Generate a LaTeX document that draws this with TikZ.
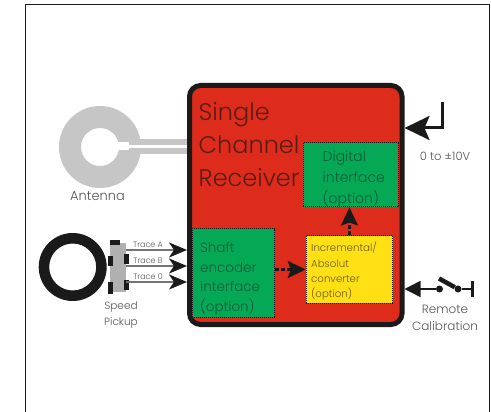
\documentclass[tikz,border=0pt]{standalone}
\usepackage{fontspec}
\setmainfont{Poppins Light}
\usetikzlibrary{arrows.meta,positioning,calc}
\definecolor{ink}{HTML}{1A1A1A}
\definecolor{mainred}{HTML}{DD2C1C}
\definecolor{optgreen}{HTML}{05A854}
\definecolor{optyellow}{HTML}{FFE014}
\definecolor{antgray}{HTML}{C6C6C6}
\definecolor{pickgray}{HTML}{B0B0B0}
\definecolor{labelgray}{HTML}{555555}
\definecolor{redtext}{HTML}{5A1C14}
\definecolor{greentext}{HTML}{0E5C3A}
\definecolor{yellowtext}{HTML}{6A5A1A}
\tikzset{
  receiver/.style={draw=ink,line width=5pt,fill=mainred,rounded corners=11pt,inner sep=0pt,minimum width=212.5pt,minimum height=239pt},
  optionbox/.style={draw=ink,line width=1pt,densely dotted,inner sep=0pt},
  fsz/.style 2 args={font=\fontsize{#1}{#2}\selectfont},
  tlabel/.style={inner sep=0pt,align=center,text=labelgray},
  blockt/.style={inner sep=0pt,align=left,anchor=north west},
  trace/.style={draw=gray!90!black,line width=2pt,-{Stealth[length=18pt,width=15pt,inset=5pt,color=ink]}},
  dashflow/.style={draw=ink,line width=2.5pt,dash pattern=on 4pt off 2pt,-{Stealth[length=18pt,width=17pt,inset=3pt,color=ink]}},
  tooth/.style={fill=ink,draw=none,inner sep=0pt},
}
\begin{document}
\begin{tikzpicture}[x=1pt,y=-1pt]
\useasboundingbox (0,0) rectangle (491,412);
\fill[white] (0,0) rectangle (491,412);
% outer frame (open at the bottom)
\draw[ink,line width=1.3pt] (25.5,412) -- (25.5,4.5) -- (489.5,4.5) -- (489.5,412);
% antenna
\fill[antgray,even odd rule] (100,147) circle (41) (100,147) circle (19);
\fill[antgray] (138,139.5) rectangle (190,154);
\fill[white] (118,142) rectangle (129,150);
\fill[white] (128,145.5) rectangle (190,148.5);
\node[tlabel,fsz={13}{15}] (ant) at (97.5,196) {Antenna};
% receiver
\node[receiver] (rx) at (295.75,205) {};
\node[blockt,fsz={24}{33},text=redtext] (rxt) at (198.5,102) {Single\\Channel\\Receiver};
% option boxes
\node[optionbox,fill=optgreen,minimum width=82.5pt,minimum height=88pt] (shaft) at (233.3,273) {};
\node[blockt,fsz={13.5}{19.4},text=greentext] (shaftt) at (200,242.5) {Shaft\\encoder\\interface\\(option)};
\node[optionbox,fill=optyellow,minimum width=86.5pt,minimum height=67pt] (conv) at (349.5,269.5) {};
\node[blockt,fsz={10.2}{15.3},text=yellowtext] (convt) at (311,242) {Incremental/\\Absolut\\converter\\(option)};
\node[optionbox,fill=optgreen,minimum width=95pt,minimum height=64pt] (dig) at (350.5,175) {};
\node[blockt,fsz={14}{21},text=greentext] (digt) at (322.5,151) {Digital\\interface\\(option)};
\draw[dashflow] (shaft.east |- conv.west) -- (conv.west);
\draw[dashflow] (conv.north) -- (conv.north |- dig.south);
% speed pickup
\fill[ink,even odd rule] (72.7,267) circle (34) (72.7,267) circle (23.5);
\node[draw=none,fill=pickgray,inner sep=0pt,minimum width=16pt,minimum height=49pt] (pick) at (118,267.5) {};
\node[tooth,minimum width=10.5pt,minimum height=5pt] (t1) at (115.2,243) {};
\node[tooth,minimum width=5pt,minimum height=10pt] (t2) at (110,261) {};
\node[tooth,minimum width=5pt,minimum height=12pt] (t3) at (110,288) {};
\node[tooth,minimum width=5pt,minimum height=10pt] (t4) at (126.5,259) {};
\node[tooth,minimum width=5pt,minimum height=10pt] (t5) at (126.5,285) {};
\coordinate (ta) at (126,250); \coordinate (tb) at (126,266); \coordinate (tc) at (126,282);
\draw[trace] (ta) -- (ta -| rx.west);
\draw[trace] (tb) -- (tb -| rx.west);
\draw[trace] (tc) -- (tc -| rx.west);
\node[tlabel,fsz={8}{9}] (la) at (148,245) {Trace A};
\node[tlabel,fsz={8}{9}] (lb) at (148,261) {Trace B};
\node[tlabel,fsz={8}{9}] (lc) at (148,277) {Trace 0};
\node[tlabel,fsz={10.5}{16}] (sp) at (121,315) {Speed\\Pickup};
% output
\coordinate (outa) at (442,102);
\coordinate (outb) at (442,128);
\draw[ink,line width=3pt,-{Stealth[length=25pt,width=24pt,inset=5pt]}] (outa) -- (outb) -- (outb -| rx.east);
\node[tlabel,fsz={11.5}{13}] (outl) at (445,156) {0 to ±10V};
% remote calibration
\node[circle,fill=ink,inner sep=0pt,minimum size=7pt] (sw1) at (439.5,289) {};
\node[circle,fill=ink,inner sep=0pt,minimum size=7pt] (sw2) at (458,289) {};
\coordinate (swt) at (472,289);
\coordinate (swu) at (472,281);
\coordinate (swd) at (472,297);
\coordinate (lever) at (439,278.5);
\draw[ink,line width=1.5pt,-{Stealth[length=16pt,width=16pt,inset=0pt]}] (sw1) -- (sw1 -| rx.east);
\draw[ink,line width=1.5pt] (sw2) -- (swt);
\draw[ink,line width=3pt] (swu) -- (swd);
\draw[ink,line width=4.5pt] (lever) -- (sw2);
\node[tlabel,fsz={12}{17}] (rem) at (445,317.5) {Remote\\Calibration};
\end{tikzpicture}
\end{document}
